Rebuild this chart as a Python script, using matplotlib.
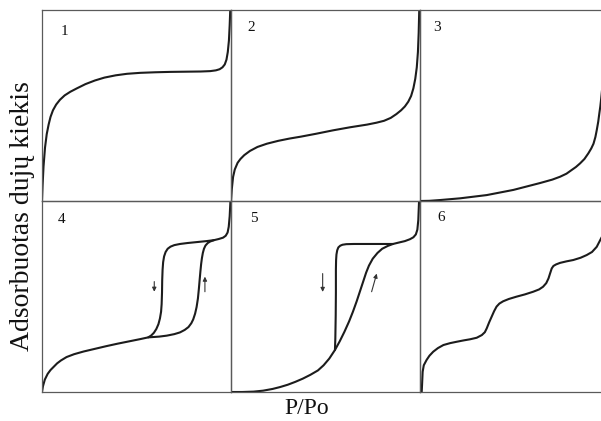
import matplotlib
matplotlib.use("Agg")
import matplotlib.pyplot as plt

FIG_W, FIG_H = 601, 421
PANEL_W, PANEL_H = 189, 191
FRAME_COLOR = "#5a5a5a"
CURVE_COLOR = "#1c1c1c"
SERIF = ["Liberation Serif", "DejaVu Serif"]

Y_LABEL = "Adsorbuotas dujų kiekis"
X_LABEL = "P/Po"
PANEL_NAMES = ["1", "2", "3", "4", "5", "6"]

# isotherm shapes (relative pressure, relative amount)
P1_X = [0, 0.003, 0.008, 0.016, 0.025, 0.035, 0.045, 0.058, 0.075, 0.095, 0.12, 0.15,
        0.185, 0.23, 0.28, 0.33, 0.39, 0.45, 0.52, 0.6, 0.68, 0.76, 0.84, 0.89, 0.92,
        0.94, 0.955, 0.967, 0.976, 0.983, 0.989, 0.993, 0.996]
P1_Y = [0, 0.08, 0.18, 0.28, 0.35, 0.40, 0.44, 0.475, 0.505, 0.53, 0.553, 0.572,
        0.59, 0.612, 0.631, 0.646, 0.658, 0.666, 0.671, 0.674, 0.676, 0.677, 0.678, 0.68,
        0.684, 0.69, 0.70, 0.715, 0.74, 0.78, 0.84, 0.92, 1.0]

P2_X = [0, 0.004, 0.011, 0.02, 0.035, 0.05, 0.07, 0.1, 0.14, 0.19, 0.25, 0.31, 0.37,
        0.45, 0.54, 0.63, 0.72, 0.77, 0.81, 0.845, 0.875, 0.9, 0.92, 0.938, 0.953,
        0.965, 0.975, 0.983, 0.989, 0.993, 0.996]
P2_Y = [0, 0.06, 0.126, 0.165, 0.2, 0.22, 0.24, 0.262, 0.283, 0.30, 0.315, 0.327, 0.337,
        0.352, 0.37, 0.386, 0.40, 0.41, 0.42, 0.435, 0.455, 0.475, 0.495, 0.52, 0.55,
        0.59, 0.64, 0.70, 0.78, 0.88, 1.0]

P3_X = [0, 0.05, 0.106, 0.212, 0.353, 0.494, 0.635, 0.70, 0.741, 0.775, 0.802, 0.825,
        0.847, 0.87, 0.891, 0.906, 0.918, 0.928, 0.935, 0.943, 0.949, 0.954, 0.958,
        0.965, 0.975, 0.99]
P3_Y = [0, 0.001, 0.005, 0.014, 0.031, 0.058, 0.094, 0.112, 0.127, 0.143, 0.162, 0.178,
        0.197, 0.22, 0.25, 0.275, 0.30, 0.335, 0.37, 0.415, 0.46, 0.495, 0.53,
        0.6, 0.72, 1.0]

P4_ADS_X = [0, 0.005, 0.015, 0.03, 0.045, 0.06, 0.08, 0.1, 0.13, 0.17, 0.22, 0.28, 0.34,
            0.40, 0.46, 0.52, 0.562, 0.62, 0.66, 0.70, 0.73, 0.755, 0.775, 0.79, 0.80,
            0.81, 0.818, 0.825, 0.83, 0.834, 0.838, 0.842, 0.846, 0.851, 0.857, 0.865,
            0.877, 0.89, 0.91, 0.935, 0.958, 0.972, 0.982, 0.988, 0.993, 0.997]
P4_ADS_Y = [0, 0.03, 0.065, 0.095, 0.115, 0.13, 0.15, 0.165, 0.183, 0.198, 0.212, 0.226,
            0.24, 0.253, 0.265, 0.277, 0.286, 0.29, 0.295, 0.303, 0.312, 0.325, 0.34,
            0.36, 0.38, 0.41, 0.445, 0.49, 0.54, 0.586, 0.63, 0.67, 0.70, 0.728, 0.75,
            0.767, 0.78, 0.788, 0.795, 0.801, 0.808, 0.818, 0.835, 0.865, 0.92, 1.0]
P4_DES_X = [0.562, 0.578, 0.592, 0.605, 0.616, 0.624, 0.63, 0.633, 0.635, 0.636, 0.638,
            0.641, 0.646, 0.654, 0.665, 0.68, 0.70, 0.73, 0.77, 0.82, 0.87, 0.91]
P4_DES_Y = [0.286, 0.296, 0.31, 0.33, 0.355, 0.385, 0.42, 0.46, 0.52, 0.586, 0.64,
            0.68, 0.71, 0.733, 0.75, 0.761, 0.769, 0.775, 0.78, 0.785, 0.79, 0.795]

P5_ADS_X = [0, 0.06, 0.12, 0.17, 0.22, 0.26, 0.30, 0.34, 0.38, 0.42, 0.46, 0.49, 0.52,
            0.55, 0.575, 0.60, 0.625, 0.645, 0.665, 0.685, 0.70, 0.715, 0.73, 0.75, 0.775,
            0.80, 0.83, 0.857, 0.89, 0.92, 0.947, 0.965, 0.978, 0.986, 0.991, 0.995]
P5_ADS_Y = [0, 0.0, 0.002, 0.007, 0.016, 0.026, 0.038, 0.053, 0.07, 0.09, 0.113, 0.14,
            0.175, 0.22, 0.265, 0.315, 0.37, 0.42, 0.475, 0.535, 0.58, 0.625, 0.662,
            0.698, 0.728, 0.75, 0.765, 0.775, 0.783, 0.79, 0.80, 0.81, 0.825, 0.85, 0.9,
            1.0]
P5_DES_X = [0.55, 0.552, 0.554, 0.555, 0.555, 0.556, 0.558, 0.562, 0.568, 0.578, 0.59,
            0.61, 0.65, 0.72, 0.80, 0.857]
P5_DES_Y = [0.22, 0.28, 0.40, 0.52, 0.64, 0.69, 0.72, 0.742, 0.757, 0.766, 0.771,
            0.774, 0.775, 0.775, 0.775, 0.775]

P6_X = [0.009, 0.011, 0.014, 0.02, 0.035, 0.05, 0.07, 0.095, 0.124, 0.16, 0.194, 0.23,
        0.265, 0.3, 0.327, 0.343, 0.353, 0.366, 0.379, 0.392, 0.405, 0.42, 0.44, 0.47,
        0.51, 0.555, 0.599, 0.63, 0.651, 0.668, 0.68, 0.688, 0.697, 0.706, 0.72, 0.741,
        0.775, 0.811, 0.85, 0.882, 0.91, 0.935, 0.958, 0.975, 0.99]
P6_Y = [0.0, 0.04, 0.106, 0.14, 0.168, 0.19, 0.211, 0.23, 0.246, 0.256, 0.263, 0.27,
        0.276, 0.284, 0.298, 0.313, 0.333, 0.365, 0.394, 0.423, 0.447, 0.463, 0.475,
        0.487, 0.499, 0.511, 0.525, 0.537, 0.551, 0.57, 0.595, 0.62, 0.647, 0.66, 0.668,
        0.676, 0.684, 0.691, 0.703, 0.717, 0.733, 0.76, 0.804, 0.835, 0.87]

# hysteresis arrows: (panel, x_start, y_start, x_end, y_end)
ARROWS = [
    (3, 0.594, 0.578, 0.594, 0.525),
    (3, 0.862, 0.525, 0.862, 0.604),
    (4, 0.485, 0.62, 0.485, 0.524),
    (4, 0.744, 0.525, 0.771, 0.62),
]

CURVES = [
    [(P1_X, P1_Y)],
    [(P2_X, P2_Y)],
    [(P3_X, P3_Y)],
    [(P4_ADS_X, P4_ADS_Y), (P4_DES_X, P4_DES_Y)],
    [(P5_ADS_X, P5_ADS_Y), (P5_DES_X, P5_DES_Y)],
    [(P6_X, P6_Y)],
]

# top-left corners of the panels in pixels, and where each number sits
PANEL_ORIGINS = [(42, 10), (231, 10), (420, 10), (42, 201), (231, 201), (420, 201)]
NUMBER_POS = [(0.10, 0.92), (0.085, 0.945), (0.069, 0.945),
              (0.085, 0.937), (0.10, 0.94), (0.09, 0.95)]


fig = plt.figure(figsize=(FIG_W / 100, FIG_H / 100), dpi=100)
fig.patch.set_facecolor("white")

axes = []
for index, (left, top) in enumerate(PANEL_ORIGINS):
    rect = (left / FIG_W, (FIG_H - top - PANEL_H) / FIG_H, PANEL_W / FIG_W, PANEL_H / FIG_H)
    ax = fig.add_axes(rect)
    ax.set_xlim(0, 1)
    ax.set_ylim(0, 1)
    ax.set_xticks([])
    ax.set_yticks([])
    ax.patch.set_alpha(0)
    for spine in ax.spines.values():
        spine.set_color(FRAME_COLOR)
        spine.set_linewidth(0.9)
    if index in (2, 5):
        ax.spines["right"].set_visible(False)

    for xs, ys in CURVES[index]:
        ax.plot(xs, ys, color=CURVE_COLOR, linewidth=1.5, solid_joinstyle="round",
                solid_capstyle="round")

    nx, ny = NUMBER_POS[index]
    ax.text(nx, ny, PANEL_NAMES[index], transform=ax.transAxes, fontsize=11,
            family=SERIF, ha="left", va="top", color="#111111")
    axes.append(ax)

for panel, x0, y0, x1, y1 in ARROWS:
    axes[panel].annotate(
        "", xy=(x1, y1), xytext=(x0, y0),
        arrowprops=dict(arrowstyle="-|>", color="#333333", lw=0.8, mutation_scale=6,
                        shrinkA=0, shrinkB=0),
    )

fig.text(23 / FIG_W, 1 - 216 / FIG_H, Y_LABEL, rotation=90, fontsize=20, family=SERIF,
         ha="center", va="center", color="#111111")
fig.text(307 / FIG_W, 1 - 408 / FIG_H, X_LABEL, fontsize=17, family=SERIF,
         ha="center", va="center", color="#111111")

fig.savefig("out.png", dpi=100, facecolor="white")
